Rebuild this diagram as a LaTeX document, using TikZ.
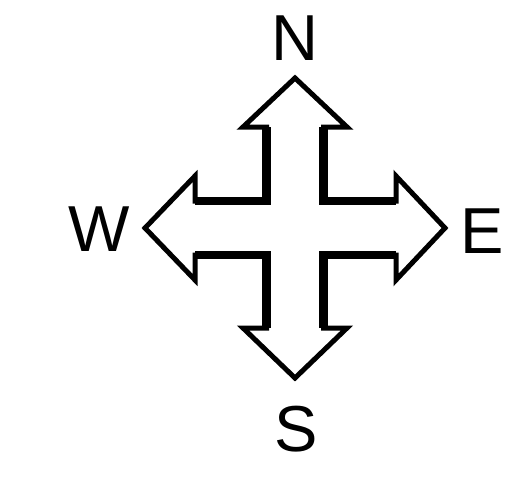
\documentclass[tikz,border=0pt]{standalone}
\usepackage{fontspec}
\setmainfont{Liberation Sans}
\begin{document}
\begin{tikzpicture}[x=1pt,y=-1pt,
  outline/.style={draw=black,line width=5pt,line join=miter,miter limit=10,fill=white},
  stemline/.style={draw=black,line width=8.5pt,line join=miter},
  label/.style={inner sep=0pt,font=\fontsize{65}{78}\selectfont}]
\useasboundingbox (0,0) rectangle (525,485);
\fill[white] (0,0) rectangle (525,485);
% four-way arrow outline
\path[outline] (295,78) -- (347,127) -- (323.5,127) -- (323.5,201) -- (396,201)
  -- (396,176) -- (445,228) -- (396,280) -- (396,255) -- (323.5,255)
  -- (323.5,328) -- (347,328) -- (295,378) -- (243,328) -- (266.5,328)
  -- (266.5,255) -- (195,255) -- (195,280) -- (145,228) -- (195,176)
  -- (195,201) -- (266.5,201) -- (266.5,127) -- (243,127) -- cycle;
% heavier stem edges
\draw[stemline] (323.5,127) -- (323.5,201) -- (396,201);
\draw[stemline] (396,255) -- (323.5,255) -- (323.5,328);
\draw[stemline] (266.5,328) -- (266.5,255) -- (195,255);
\draw[stemline] (195,201) -- (266.5,201) -- (266.5,127);
% labels
\node[label] (n) at (295,38.5) {N};
\node[label] (w) at (99,229) {W};
\node[label] (e) at (482,231) {E};
\node[label] (s) at (296,429) {S};
\end{tikzpicture}
\end{document}
